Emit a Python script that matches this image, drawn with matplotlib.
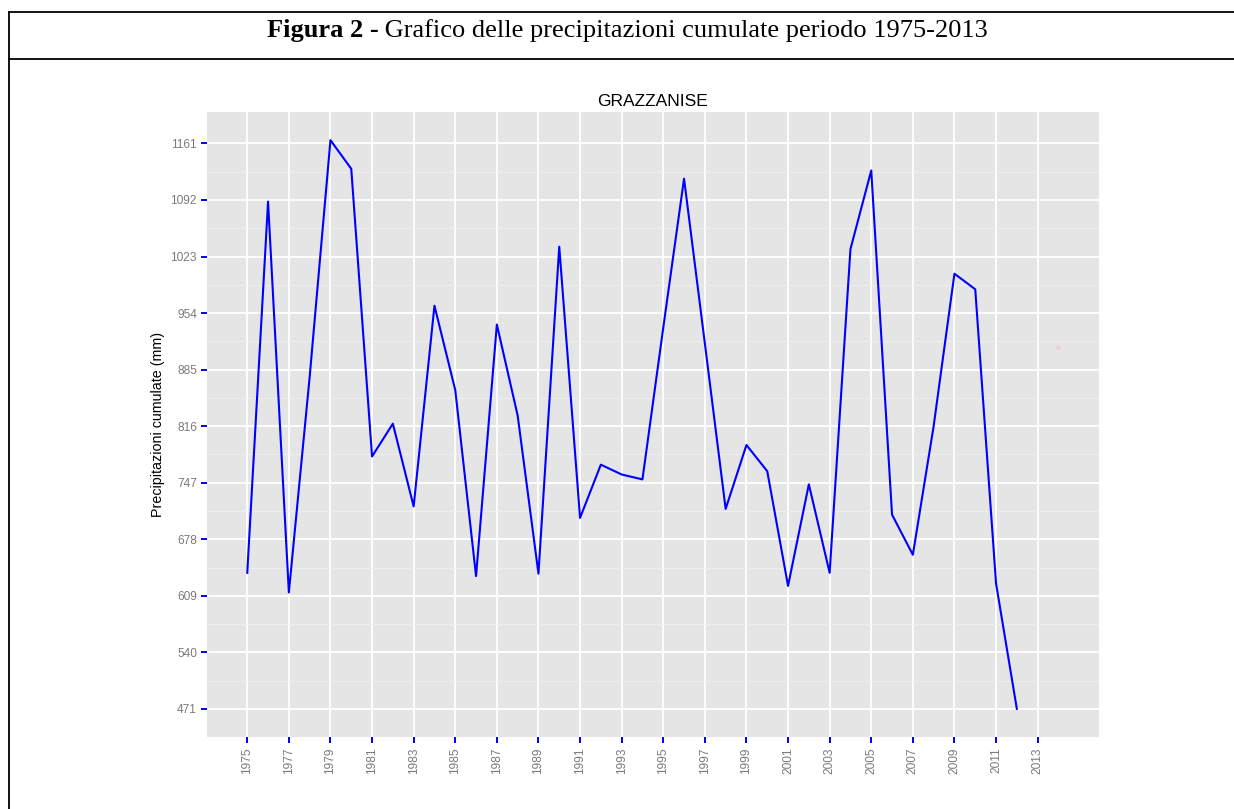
import matplotlib.pyplot as plt
from matplotlib.lines import Line2D
import numpy as np

# annual cumulative precipitation, Grazzanise (mm)
years = list(range(1975, 2013))
precip = [637, 1090, 613, 876, 1165, 1130, 779, 819, 718, 963,
          860, 633, 940, 829, 636, 1035, 704, 769, 757, 751,
          936, 1118, 917, 715, 793, 761, 621, 745, 637, 1032,
          1128, 708, 659, 816, 1002, 983, 624, 471]

# faint extra point drawn by the original plot
extra_year = [2014]
extra_val = [913]

ytick_vals = [471, 540, 609, 678, 747, 816, 885, 954, 1023, 1092, 1161]
xtick_vals = list(range(1975, 2014, 2))

fig_title_bold = "Figura 2 -"
fig_title_rest = " Grafico delle precipitazioni cumulate periodo 1975-2013"

W, H = 1234, 809
fig = plt.figure(figsize=(W / 100, H / 100), dpi=100)

def fx(px):
    return px / W

def fy(py):
    return 1 - py / H

# panel
ax = fig.add_axes([fx(206.7), fy(737.3), fx(1099) - fx(206.7), fy(111.7) - fy(737.3)])
ax.set_facecolor('#E5E5E5')
for s in ax.spines.values():
    s.set_visible(False)

ax.plot(years, precip, color='blue', lw=1.5, zorder=3)
ax.plot(extra_year, extra_val, 'o', color='#F6CCD6', ms=2.5, zorder=3)

# ggplot-like 5% expansion
allx = years + extra_year
ally = precip + extra_val
dx = (max(allx) - min(allx)) * 0.05
dy = (max(ally) - min(ally)) * 0.05
ax.set_xlim(min(allx) - dx, max(allx) + dx)
ax.set_ylim(min(ally) - dy, max(ally) + dy)

ax.set_yticks(ytick_vals)
ax.set_yticks([(a + b) / 2 for a, b in zip(ytick_vals[:-1], ytick_vals[1:])], minor=True)
ax.set_xticks(xtick_vals)
ax.set_xticklabels([str(y) for y in xtick_vals], rotation=90)

ax.grid(which='major', color='white', lw=1.3)
ax.grid(which='minor', axis='y', color='#F0F0F0', lw=0.6)
ax.set_axisbelow(True)

ax.tick_params(which='major', color='blue', length=4, width=1.4,
               labelcolor='#7A7A7A', labelsize=8.6, pad=3)
ax.tick_params(which='minor', length=0)
for lab in ax.get_xticklabels() + ax.get_yticklabels():
    lab.set_family('Liberation Sans')

fig.text(fx(652.9), fy(101.7), 'GRAZZANISE', ha='center', va='center',
         fontsize=12.5, family='Liberation Sans', color='black')
fig.text(fx(158), fy(424.5), 'Precipitazioni cumulate (mm)', rotation=90,
         ha='center', va='center', fontsize=10.3, family='Liberation Sans', color='black')

# table-like frame of the document
lw = 1.3
fig.add_artist(Line2D([fx(8.5), 1.0], [fy(12), fy(12)], color='black', lw=lw))
fig.add_artist(Line2D([fx(8.5), 1.0], [fy(59), fy(59)], color='black', lw=lw))
fig.add_artist(Line2D([fx(8.5), fx(8.5)], [fy(12), 0.0], color='black', lw=lw))

# caption with bold prefix, centred as a whole
t1 = fig.text(0, fy(37.5), fig_title_bold, fontsize=19, weight='bold',
              family='Liberation Serif', va='baseline', ha='left')
t2 = fig.text(0, fy(37.5), fig_title_rest, fontsize=19,
              family='Liberation Serif', va='baseline', ha='left')
fig.canvas.draw()
r = fig.canvas.get_renderer()
w1 = t1.get_window_extent(r).width
w2 = t2.get_window_extent(r).width
x0 = 627.5 - (w1 + w2) / 2
t1.set_x(fx(x0))
t2.set_x(fx(x0 + w1))

fig.savefig('out.png', dpi=100)
